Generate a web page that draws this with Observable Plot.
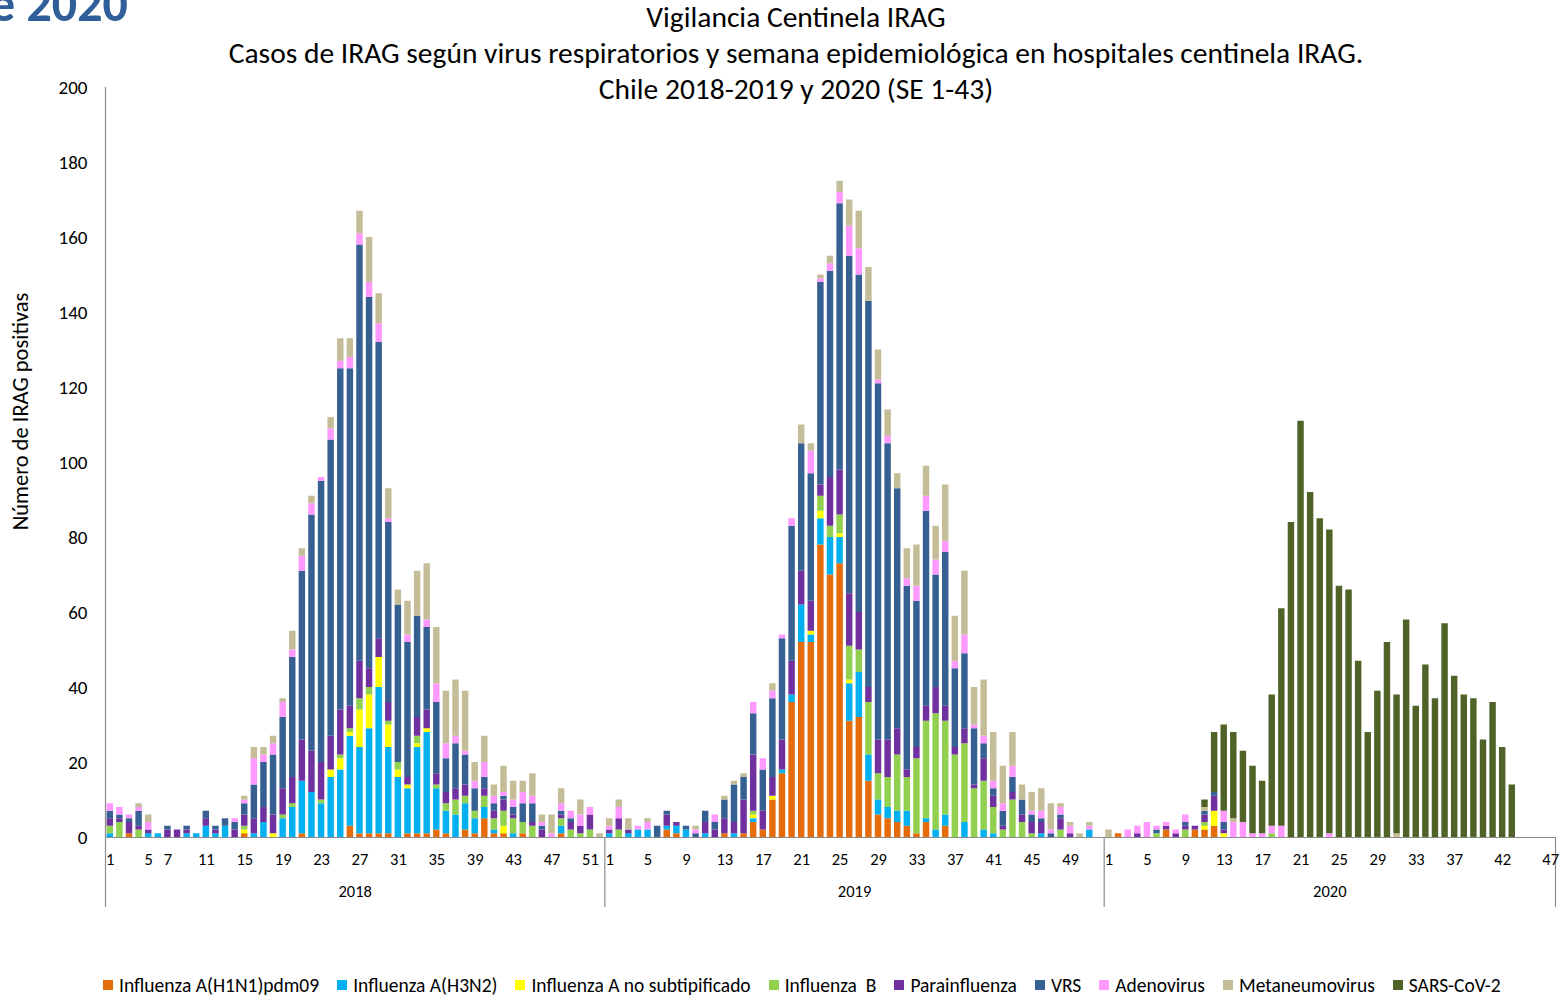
<!DOCTYPE html>
<html><head><meta charset="utf-8">
<script src="https://cdn.jsdelivr.net/npm/d3@7"></script>
<script src="https://cdn.jsdelivr.net/npm/@observablehq/plot@0.6"></script>
<style>
body{margin:0;background:#fff;font-family:Calibri,Carlito,Lato,sans-serif;}
#wrap{position:relative;width:1562px;height:997px;overflow:hidden;background:#fff;}
#corner{position:absolute;left:-10px;top:-27px;font-weight:bold;font-size:50px;color:#2F5E98;white-space:nowrap;}
#title{position:absolute;left:196px;width:1200px;top:-1px;text-align:center;font-size:29.5px;line-height:36px;color:#000;white-space:nowrap;}
#chart{position:absolute;left:0;top:0;}
#legend{position:absolute;left:103px;top:973px;display:flex;gap:18px;font-size:19.5px;color:#000;white-space:nowrap;}
#legend .it{display:flex;align-items:center;}
#legend .sw{width:10px;height:10px;margin-right:6px;}
</style></head><body>
<div id="wrap">
  <div id="corner">e 2020</div>
  <div id="title">Vigilancia Centinela IRAG<br>Casos de IRAG según virus respiratorios y semana epidemiológica en hospitales centinela IRAG.<br>Chile 2018-2019 y 2020 (SE 1-43)</div>
  <div id="chart"></div>
  <div id="legend"></div>
</div>
<script>
const years = ["2018", "2019", "2020"];
const weeksPerYear = [52, 52, 47];
const seriesNames = ["Influenza A(H1N1)pdm09", "Influenza A(H3N2)", "Influenza A no subtipificado", "Influenza  B", "Parainfluenza", "VRS", "Adenovirus", "Metaneumovirus", "SARS-CoV-2"];
const seriesColors = ["#E46C0A", "#00B0F0", "#FFFF00", "#92D050", "#7030A0", "#376092", "#FF99FF", "#C4BD97", "#4F6228"];

// values per epidemiological week: 2018 (52), 2019 (52), 2020 (47)
const h1n1 = [].concat(
  [0,0,1,0,0,0,0,0,0,0, 0,0,0,0,1,0,0,0,0,0, 1,0,0,0,0,3,1,1,1,1, 0,1,1,1,2,1,0,2,1,5, 1,1,0,1,0,0,0,1,0,0, 0,0],
  [0,0,0,0,0,0,2,1,0,0, 0,0,1,0,1,4,2,10,17,36, 52,52,78,70,73,31,32,15,6,5, 4,3,1,4,0,3,0,0,0,0, 0,0,0,0,0,0,0,0,0,0, 0,0],
  [0,1,0,0,0,0,2,0,0,2, 2,3,0,0,0,0,0,0,0,0, 0,0,0,0,0,0,0,0,0,0, 0,0,0,0,0,0,0,0,0,0, 0,0,0,0,0,0,0]);
const h3n2 = [].concat(
  [1,0,0,0,1,1,0,0,1,1, 3,1,3,0,0,1,4,0,5,8, 14,12,9,16,18,24,23,28,39,23, 16,12,23,27,11,6,6,7,4,3, 1,0,1,0,0,0,0,2,0,0, 0,0],
  [1,0,1,2,2,0,1,2,2,0, 1,0,0,1,0,1,0,0,1,2, 10,2,7,10,7,10,12,7,4,3, 3,4,0,1,2,3,0,4,0,2, 1,0,0,0,0,1,0,0,0,0, 2,0],
  [0,0,0,0,0,0,0,0,0,0, 0,0,0,0,0,0,0,0,0,0, 0,0,0,0,0,0,0,0,0,0, 0,0,0,0,0,0,0,0,0,0, 0,0,0,0,0,0,0]);
const aNoSubtip = [].concat(
  [0,0,0,0,0,0,0,0,0,0, 0,0,0,0,1,0,0,1,0,0, 0,0,0,2,3,1,10,9,8,6, 2,1,1,1,0,0,0,0,0,0, 0,2,0,0,0,0,0,0,0,0, 0,0],
  [0,0,0,0,0,0,0,0,0,0, 0,0,0,0,0,1,0,1,0,0, 0,1,2,0,1,1,0,0,0,0, 0,0,0,0,0,0,0,0,0,0, 0,0,0,0,0,0,0,0,0,0, 0,0],
  [0,0,0,0,0,0,0,0,0,0, 1,4,1,0,0,0,0,0,0,0, 0,0,0,0,0,0,0,0,0,0, 0,0,0,0,0,0,0,0,0,0, 0,0,0,0,0,0,0]);
const fluB = [].concat(
  [2,4,0,2,0,0,0,0,0,0, 0,0,0,0,1,0,0,0,1,1, 0,0,1,0,1,1,3,2,0,1, 2,0,2,0,1,2,4,2,2,3, 3,4,4,3,3,0,0,2,2,1, 2,0],
  [0,2,0,0,0,0,0,0,0,0, 0,0,0,0,0,1,0,0,0,0, 0,0,4,3,5,9,6,14,7,8, 15,9,20,26,31,25,22,21,13,13, 7,2,10,4,1,0,0,2,0,0, 0,0],
  [0,0,0,0,0,1,0,0,2,0, 1,0,0,0,0,0,0,1,0,0, 0,0,0,0,0,0,0,0,0,0, 0,0,0,0,0,0,0,0,0,0, 0,0,0,0,0,0,0]);
const parainfluenza = [].concat(
  [2,1,3,1,1,0,2,2,1,0, 2,1,0,2,3,4,4,5,7,7, 11,11,10,9,12,6,10,5,5,5, 0,2,5,5,3,3,3,3,0,2, 2,3,1,0,1,2,0,1,2,2, 4,0],
  [1,3,1,0,0,0,3,1,0,0, 3,2,4,3,9,15,5,5,8,9, 9,8,3,13,12,14,10,4,9,10, 7,2,3,4,7,4,2,4,1,6, 3,1,2,2,3,3,0,3,1,0, 0,0],
  [0,0,0,1,0,0,1,1,1,1, 2,4,1,0,0,0,0,0,0,0, 0,0,0,0,0,0,0,0,0,0, 0,0,0,0,0,0,0,0,0,0, 0,0,0,0,0,0,0]);
const vrs = [].concat(
  [2,1,1,4,0,0,1,0,1,0, 2,1,2,2,3,9,12,16,19,32, 45,63,75,79,91,90,111,99,79,48, 42,36,27,22,19,9,12,8,6,3, 2,1,2,5,5,1,0,1,1,0, 0,0],
  [0,0,0,0,0,3,1,0,1,1, 3,2,5,10,6,11,11,21,27,36, 34,34,54,55,71,90,90,103,95,79, 64,49,39,52,30,41,21,20,15,4, 2,4,4,4,2,1,1,1,0,0, 0,0],
  [0,0,0,0,0,1,0,0,1,0, 1,1,2,0,0,0,0,0,0,0, 0,0,0,0,0,0,0,0,0,0, 0,0,0,0,0,0,0,0,0,0, 0,0,0,0,0,0,0]);
const adenovirus = [].concat(
  [2,2,1,1,2,0,0,0,0,0, 0,0,0,1,1,7,2,3,4,2, 4,3,1,3,2,3,3,4,5,1, 0,2,0,2,5,4,2,1,2,4, 2,1,2,3,2,1,1,2,2,3, 2,0],
  [1,3,0,1,2,0,0,0,0,1, 0,2,0,0,0,3,3,2,1,2, 0,6,1,2,3,8,7,0,1,2, 0,2,4,4,4,3,2,5,1,2, 2,2,3,0,1,2,1,2,2,0, 1,0],
  [0,0,2,2,4,1,1,1,2,0, 0,0,3,4,4,1,1,2,3,0, 0,0,0,1,0,0,0,0,0,0, 0,0,0,0,0,0,0,0,0,0, 0,0,0,0,0,0,0]);
const metaneumovirus = [].concat(
  [0,0,0,1,2,0,0,0,0,0, 0,0,0,0,1,3,2,2,1,5, 2,2,0,3,6,5,6,12,8,8, 4,9,12,15,15,14,15,16,5,7, 3,7,5,3,6,2,5,4,0,4, 0,1],
  [2,2,3,0,1,0,0,0,0,1, 0,0,1,1,1,0,0,2,0,0, 5,2,1,2,3,7,10,9,8,7, 4,8,11,8,9,15,12,17,10,15, 13,10,9,4,5,6,7,1,1,1, 1,0],
  [2,0,0,0,0,0,0,0,0,0, 1,0,0,1,0,0,0,0,0,0, 0,0,0,0,0,0,0,0,0,0, 1,0,0,0,0,0,0,0,0,0, 0,0,0,0,0,0,0]);
const sarsCoV2 = [].concat(
  [0,0,0,0,0,0,0,0,0,0, 0,0,0,0,0,0,0,0,0,0, 0,0,0,0,0,0,0,0,0,0, 0,0,0,0,0,0,0,0,0,0, 0,0,0,0,0,0,0,0,0,0, 0,0],
  [0,0,0,0,0,0,0,0,0,0, 0,0,0,0,0,0,0,0,0,0, 0,0,0,0,0,0,0,0,0,0, 0,0,0,0,0,0,0,0,0,0, 0,0,0,0,0,0,0,0,0,0, 0,0],
  [0,0,0,0,0,0,0,0,0,0, 2,16,23,23,19,18,14,35,58,84, 111,92,85,81,67,66,47,28,39,52, 37,58,35,46,37,57,43,38,37,26, 36,24,14,0,0,0,0]);

const yTicks = [0, 20, 40, 60, 80, 100, 120, 140, 160, 180, 200];
const weekTicks2018 = [1, 5, 7, 11, 15, 19, 23, 27, 31, 35, 39, 43, 47, 51];
const weekTicks2019 = [1, 5, 9, 13, 17, 21, 25, 29, 33, 37, 41, 45, 49];
const weekTicks2020 = [1, 5, 9, 13, 17, 21, 25, 29, 33, 37, 42, 47];
const yTitle = "Número de IRAG positivas";

// ---- build table ----
const seriesValues = [h1n1, h3n2, aNoSubtip, fluB, parainfluenza, vrs, adenovirus, metaneumovirus, sarsCoV2];
const keys = [];
years.forEach((y, yi) => { for (let w = 1; w <= weeksPerYear[yi]; w++) keys.push(y + "|" + w); });
const rows = [];
seriesNames.forEach((s, si) => keys.forEach((k, i) => {
  const v = seriesValues[si][i];
  if (v > 0) rows.push({key: k, series: s, value: v});
}));
const tickKeys = [].concat(
  weekTicks2018.map(w => "2018|" + w),
  weekTicks2019.map(w => "2019|" + w),
  weekTicks2020.map(w => "2020|" + w));

const xOpts = {type: "band", domain: keys, range: [105, 1555], paddingInner: 0.33, paddingOuter: 0.165};
const half = Plot.scale({x: xOpts}).step / 2;
const axisColor = "#8c8c8c";

const chart = Plot.plot({
  width: 1562, height: 920,
  marginTop: 87, marginLeft: 105, marginRight: 7, marginBottom: 83,
  style: {fontFamily: "Calibri, Carlito, Lato, sans-serif", fontSize: "16px", color: "#000", background: "transparent", overflow: "visible"},
  x: {...xOpts, axis: null},
  y: {domain: [0, 200], axis: null},
  color: {domain: seriesNames, range: seriesColors},
  marks: [
    Plot.axisY(yTicks, {tickSize: 0, tickPadding: 18, fontSize: 19, label: null}),
    Plot.text([yTitle], {text: d => d, frameAnchor: "left", textAnchor: "middle", rotate: -90, dx: -85, dy: -51, fontSize: 22.5}),
    Plot.barY(rows, {x: "key", y: "value", fill: "series"}),
    Plot.ruleY([0], {stroke: axisColor, strokeWidth: 1.2}),
    Plot.ruleX([keys[0]], {dx: -half, stroke: axisColor, strokeWidth: 1.2, insetBottom: -70}),
    Plot.ruleX(["2019|1", "2020|1"], {dx: -half, stroke: axisColor, strokeWidth: 1.2, insetTop: 750, insetBottom: -70}),
    Plot.ruleX(["2020|47"], {dx: half, stroke: axisColor, strokeWidth: 1.2, insetTop: 750, insetBottom: -70}),
    Plot.axisX(tickKeys, {tickSize: 0, tickPadding: 16, fontSize: 16.5, tickFormat: k => k.split("|")[1], label: null}),
    Plot.text([{key: "2018|27", year: "2018"}, {key: "2019|27", year: "2019"}], {x: "key", text: "year", frameAnchor: "bottom", dy: 59, dx: -half, fontSize: 16.5}),
    Plot.text([{key: "2020|24", year: "2020"}], {x: "key", text: "year", frameAnchor: "bottom", dy: 59, fontSize: 16.5})
  ]
});
document.getElementById("chart").appendChild(chart);

const legend = document.getElementById("legend");
seriesNames.forEach((s, i) => {
  const it = document.createElement("div");
  it.className = "it";
  const sw = document.createElement("span");
  sw.className = "sw";
  sw.style.background = seriesColors[i];
  const tx = document.createElement("span");
  tx.textContent = s;
  tx.style.whiteSpace = "pre";
  it.appendChild(sw); it.appendChild(tx);
  legend.appendChild(it);
});
</script>
</body></html>
